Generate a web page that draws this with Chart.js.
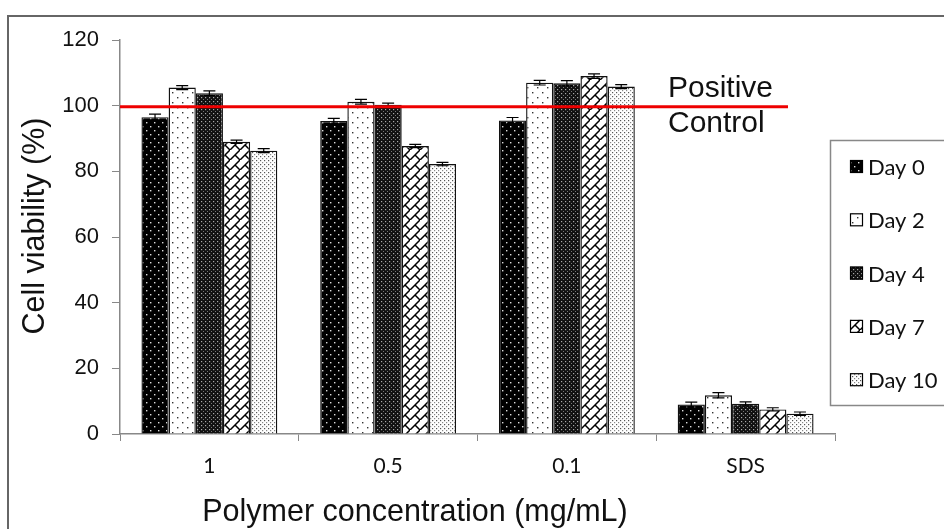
<!DOCTYPE html>
<html>
<head>
<meta charset="utf-8">
<script src="https://cdn.jsdelivr.net/npm/chart.js@4.4.0/dist/chart.umd.min.js"></script>
<style>
  html, body { margin: 0; padding: 0; background: #fff; }
  #wrap { position: relative; width: 944px; height: 529px; }
</style>
</head>
<body>
<div id="wrap"><canvas id="viabilityChart" width="944" height="529"></canvas></div>
<script>
// categories and series
const concentrations = ['1', '0.5', '0.1', 'SDS'];
const seriesNames = ['Day 0', 'Day 2', 'Day 4', 'Day 7', 'Day 10'];
const day0 = [96.5, 95.3, 95.5, 9.0];
const day2 = [105.5, 101.2, 107.0, 11.8];
const day4 = [103.8, 100.3, 106.8, 9.2];
const day7 = [89.0, 87.7, 109.0, 7.5];
const day10 = [86.3, 82.2, 105.8, 6.2];
// error bars (+/-)
const err0 = [0.9, 0.8, 0.9, 0.7];
const err2 = [0.6, 0.7, 0.7, 0.8];
const err4 = [0.7, 0.5, 0.8, 0.6];
const err7 = [0.5, 0.5, 0.7, 0.5];
const err10 = [0.6, 0.5, 0.6, 0.5];
const yTicks = [0, 20, 40, 60, 80, 100, 120];
const positiveControl = 99.7;

const canvas = document.getElementById('viabilityChart');
const ctx = canvas.getContext('2d');

function makePattern(size, draw) {
    const c = document.createElement('canvas');
    c.width = size; c.height = size;
    const g = c.getContext('2d');
    draw(g, size);
    return ctx.createPattern(c, 'repeat');
}

function dot(g, x, y, r, color) {
    g.fillStyle = color;
    g.fillRect(x, y, r, r);
}

// Day 0: black with sparse white dots
const patDay0 = makePattern(8, (g, s) => {
    g.fillStyle = '#000'; g.fillRect(0, 0, s, s);
    dot(g, 2, 2, 1.4, '#ddd'); dot(g, 6, 6, 1.4, '#ddd');
});
// Day 2: white with sparse black dots
const patDay2 = makePattern(10, (g, s) => {
    g.fillStyle = '#fff'; g.fillRect(0, 0, s, s);
    dot(g, 2, 2, 1.4, '#333'); dot(g, 7, 7, 1.4, '#333');
});
// Day 4: dark with dense white dots
const patDay4 = makePattern(4, (g, s) => {
    g.fillStyle = '#111'; g.fillRect(0, 0, s, s);
    dot(g, 1, 1, 1.2, '#aaa'); dot(g, 3, 3, 1, '#777');
});
// Day 7: diagonal brick hatch
const patDay7 = makePattern(10, (g, s) => {
    g.fillStyle = '#fff'; g.fillRect(0, 0, s, s);
    g.strokeStyle = '#000'; g.lineWidth = 1.5;
    g.beginPath();
    g.moveTo(-2, s + 2); g.lineTo(s + 2, -2);
    g.moveTo(s / 2, s / 2); g.lineTo(s, s);
    g.stroke();
});
// Day 10: white with dense fine dots
const patDay10 = makePattern(4, (g, s) => {
    g.fillStyle = '#fff'; g.fillRect(0, 0, s, s);
    dot(g, 0, 0, 1.2, '#555'); dot(g, 2, 2, 1.2, '#888');
});

const patterns = [patDay0, patDay2, patDay4, patDay7, patDay10];
const values = [day0, day2, day4, day7, day10];
const errors = [err0, err2, err4, err7, err10];

const frame = {
    id: 'frame',
    beforeDraw(chart) {
        const c = chart.ctx;
        c.save();
        c.fillStyle = '#fff';
        c.fillRect(0, 0, chart.width, chart.height);
        c.strokeStyle = '#666';
        c.lineWidth = 2;
        c.strokeRect(8, 16, 1200, 1200);
        c.restore();
    }
};

const errorBars = {
    id: 'errorBars',
    afterDatasetsDraw(chart) {
        const c = chart.ctx;
        const y = chart.scales.y;
        c.save();
        c.strokeStyle = '#000';
        c.lineWidth = 1.2;
        chart.data.datasets.forEach((ds, i) => {
            chart.getDatasetMeta(i).data.forEach((bar, j) => {
                const v = ds.data[j], e = errors[i][j];
                const top = y.getPixelForValue(v + e);
                const bot = y.getPixelForValue(v - e);
                c.beginPath();
                c.moveTo(bar.x, top); c.lineTo(bar.x, bot);
                c.moveTo(bar.x - 6, top); c.lineTo(bar.x + 6, top);
                c.moveTo(bar.x - 6, bot); c.lineTo(bar.x + 6, bot);
                c.stroke();
            });
        });
        c.restore();
    }
};

const extras = {
    id: 'extras',
    afterDraw(chart) {
        const c = chart.ctx;
        const area = chart.chartArea;
        const yPos = chart.scales.y.getPixelForValue(positiveControl);
        c.save();
        // positive control line
        c.strokeStyle = '#ee0000';
        c.lineWidth = 3;
        c.beginPath();
        c.moveTo(area.left, yPos);
        c.lineTo(area.right - 47, yPos);
        c.stroke();

        c.fillStyle = '#111';
        c.font = '30px "Liberation Sans", Arial, sans-serif';
        c.textAlign = 'left';
        c.textBaseline = 'alphabetic';
        c.fillText('Positive', 668, 97);
        c.fillText('Control', 668, 132);

        // axis titles
        c.textAlign = 'center';
        c.font = '30.5px "Liberation Sans", Arial, sans-serif';
        c.fillText('Polymer concentration (mg/mL)', 415, 521);
        c.translate(44, 226);
        c.rotate(-Math.PI / 2);
        c.fillText('Cell viability (%)', 0, 0);
        c.restore();

        // legend
        c.save();
        c.strokeStyle = '#888';
        c.lineWidth = 1.5;
        c.strokeRect(830.5, 140.5, 200, 265);
        c.font = '22px Lato, "Open Sans", sans-serif';
        c.textAlign = 'left';
        c.textBaseline = 'middle';
        seriesNames.forEach((name, i) => {
            const cy = 167 + i * 53.3;
            c.fillStyle = patterns[i];
            c.fillRect(850, cy - 7, 13, 13);
            c.strokeStyle = '#000';
            c.lineWidth = 1.2;
            c.strokeRect(850.5, cy - 6.5, 12, 12);
            c.fillStyle = '#111';
            c.fillText(name, 868, cy + 1);
        });
        c.restore();
    }
};

new Chart(ctx, {
    type: 'bar',
    data: {
        labels: concentrations,
        datasets: seriesNames.map((name, i) => ({
            label: name,
            data: values[i],
            backgroundColor: patterns[i],
            borderColor: '#111',
            borderWidth: 1.4,
            categoryPercentage: 0.76,
            barPercentage: 1.0
        }))
    },
    options: {
        responsive: false,
        animation: false,
        layout: { padding: { left: 0, top: 40, right: 109, bottom: 0 } },
        plugins: { legend: { display: false }, tooltip: { enabled: false } },
        scales: {
            x: {
                afterFit(scale) { scale.height = 95; },
                grid: { offset: true, drawOnChartArea: false, drawTicks: true, tickLength: 7, color: '#888' },
                border: { color: '#888', width: 1.5 },
                ticks: { color: '#111', font: { family: 'Lato, "Open Sans", sans-serif', size: 21 }, padding: 13 }
            },
            y: {
                min: 0, max: 120,
                afterFit(scale) { scale.width = 120; },
                afterBuildTicks(scale) { scale.ticks = yTicks.map(v => ({ value: v })); },
                grid: { drawOnChartArea: false, drawTicks: true, tickLength: 8, color: '#888' },
                border: { color: '#888', width: 1.5 },
                ticks: { color: '#111', font: { family: '"Liberation Sans", Arial, sans-serif', size: 22 }, padding: 13 }
            }
        }
    },
    plugins: [frame, errorBars, extras]
});
</script>
</body>
</html>
